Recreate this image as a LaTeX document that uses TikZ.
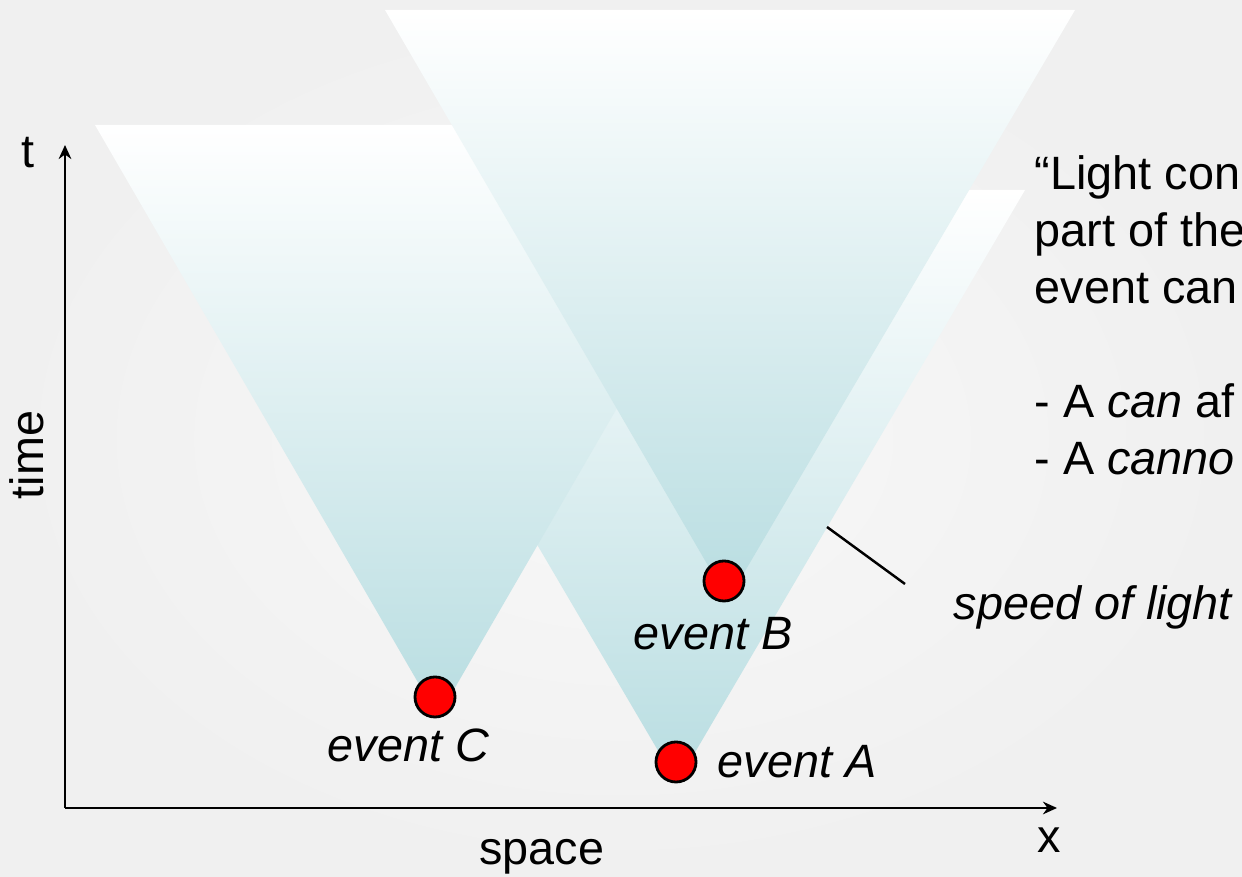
\documentclass[tikz,border=0pt]{standalone}
\usepackage{fontspec}
\setmainfont{Liberation Sans}
\usetikzlibrary{arrows.meta}
\definecolor{figbg}{RGB}{240,240,240}
\definecolor{figbgin}{RGB}{248,248,248}
\definecolor{conetip}{RGB}{184,221,225}
\definecolor{evred}{RGB}{255,0,0}
\tikzset{
  cone/.style ={top color=white, bottom color=conetip},
  ax/.style   ={draw=black, line width=0.5pt, -{Stealth[length=4pt,width=3.6pt]}},
  ldr/.style  ={draw=black, line width=0.7pt},
  dot/.style  ={circle, draw=black, line width=0.8pt, fill=evred, minimum size=0.4cm, inner sep=0pt},
  lab/.style  ={font=\fontsize{13.3}{16}\selectfont, inner sep=0pt},
  labi/.style ={font=\fontsize{13.3}{16}\selectfont\itshape, inner sep=0pt},
}
\begin{document}
\begin{tikzpicture}[x=0.01cm, y=-0.01cm]
  \useasboundingbox (0,0) rectangle (1242,877);
  \shade[inner color=figbgin, outer color=figbg] (0,0) rectangle (1242,877);
  % light cones, A behind C behind B
  \shade[cone] (329,190) -- (1025,190) -- (677,783) -- cycle;
  \shade[cone] (95,125) -- (781,125) -- (438,717) -- cycle;
  \shade[cone] (385,10) -- (1075,10) -- (728,600) -- cycle;
  % axes
  \coordinate (o) at (65,808);
  \coordinate (ttip) at (65,145);
  \coordinate (xtip) at (1057,808);
  \draw[ax] (o) -- (ttip);
  \draw[ax] (o) -- (xtip);
  \node[lab,anchor=base] (tlab) at (28,168) {t};
  \node[lab,anchor=base] (xlab) at (1049,853) {x};
  \node[lab,rotate=90,anchor=base] (timelab) at (43,455) {time};
  \node[lab,anchor=base] (spacelab) at (542,865) {space};
  % events
  \node[dot] (evC) at (435,697) {};
  \node[dot] (evB) at (724,581) {};
  \node[dot] (evA) at (676,762) {};
  \node[labi,anchor=base west] (labC) at (327,762) {event C};
  \node[labi,anchor=base west] (labB) at (633,650) {event B};
  \node[labi,anchor=base west] (labA) at (717,778) {event A};
  % speed of light
  \coordinate (edge) at (827,527);
  \coordinate (lead) at (905,584);
  \draw[ldr] (edge) -- (lead);
  \node[labi,anchor=base west] (sol) at (953,620) {speed of light};
  % side text
  \node[lab,anchor=base west] (txa) at (1034,190) {“Light con};
  \node[lab,anchor=base west] (txb) at (1034,247) {part of the};
  \node[lab,anchor=base west] (txc) at (1034,304) {event can};
  \node[lab,anchor=base west] (txd) at (1034,418) {- A \textit{can} af};
  \node[lab,anchor=base west] (txe) at (1034,475) {- A \textit{canno}};
\end{tikzpicture}
\end{document}
